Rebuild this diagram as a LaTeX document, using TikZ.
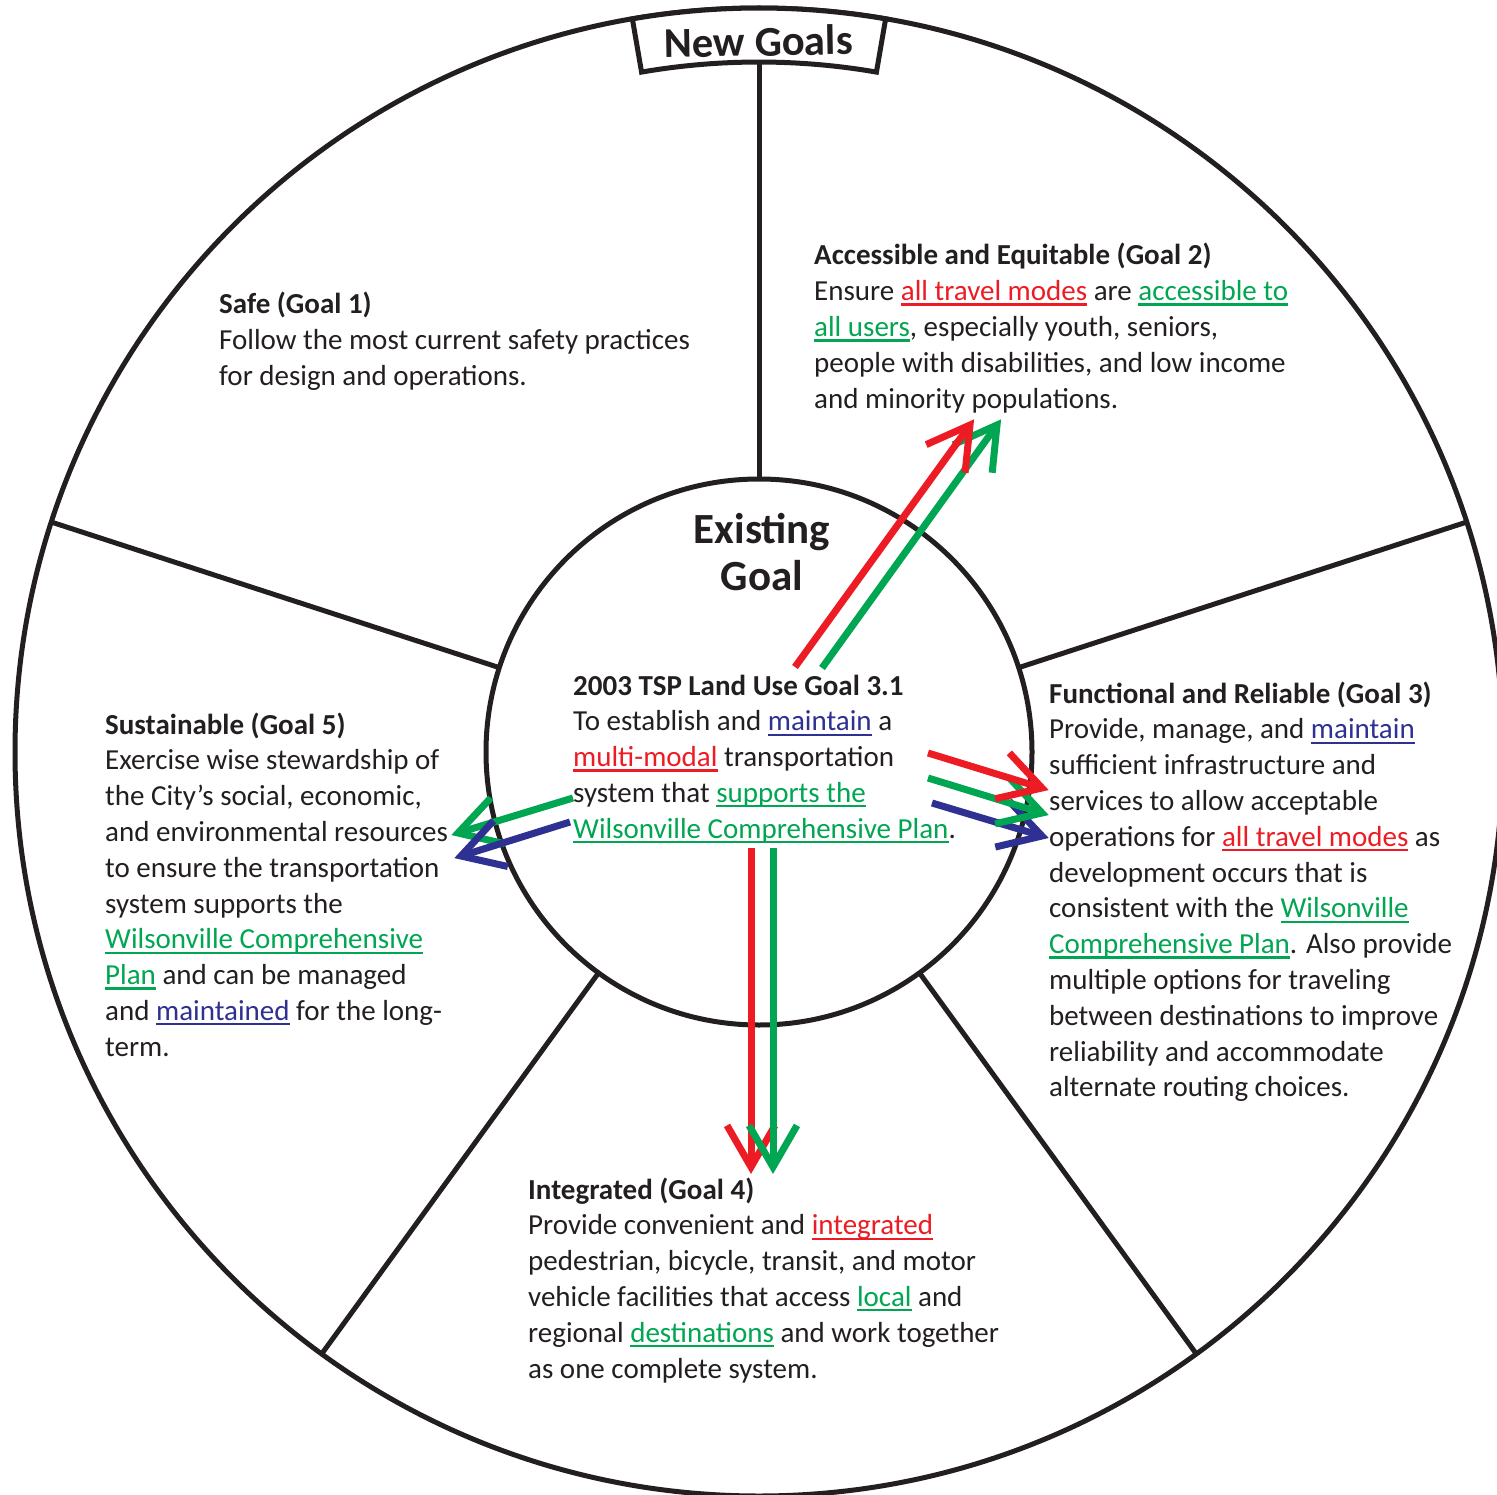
\documentclass[tikz,border=0pt]{standalone}
\usepackage{fontspec}
\setmainfont{Carlito}
\usetikzlibrary{calc}
\definecolor{txt}{HTML}{231F20}
\definecolor{cred}{HTML}{ED1C24}
\definecolor{cgreen}{HTML}{00A651}
\definecolor{cblue}{HTML}{2E3192}
\newlength\ulwd
\newcommand\ulc[2]{{\color{#1}\settowidth\ulwd{#2}\rlap{\rule[-5pt]{\ulwd}{2.3pt}}#2}}
\newcommand\arrowV[3]{%
  \draw[#1, line width=7pt] (#2) -- (#3);
  \draw[#1, line width=7pt, line join=miter] ($(#3)!48pt!30:(#2)$) -- (#3) -- ($(#3)!48pt!-30:(#2)$);}
\newcommand\blkL[1]{\begin{tabular}[t]{@{}l@{}}#1\end{tabular}}
\newcommand\blkC[1]{\begin{tabular}[t]{@{}c@{}}#1\end{tabular}}
\begin{document}
\begin{tikzpicture}[x=1pt,y=-1pt,
  ln/.style={draw=txt, line width=5pt},
  blk/.style={anchor=base west, inner sep=0pt, text=txt,
    font=\fontsize{29}{35.8}\selectfont},
  ttl/.style={inner sep=0pt, text=txt, font=\fontsize{43}{47}\selectfont\bfseries}]
\useasboundingbox[fill=white] (0,0) rectangle (1497,1495);
\coordinate (C) at (759,752);
% circles
\draw[ln] (C) circle[radius=744pt];
\draw[ln] (C) circle[radius=273pt];
% spokes
\draw[ln] ($(C)+(90:273pt)$) -- ($(C)+(90:690pt)$);
\foreach \a in {18,162,234,306}
  \draw[ln] ($(C)+(\a:273pt)$) -- ($(C)+(\a:744pt)$);
% New Goals banner
\draw[ln, fill=white, line join=miter] ($(C)+(80.2:744pt)$) arc[start angle=80.2, end angle=99.8, radius=744pt]
  -- ($(C)+(99.8:690pt)$) arc[start angle=99.8, end angle=80.2, radius=690pt] -- cycle;
\node[ttl, anchor=base, font=\fontsize{42.5}{44}\selectfont\bfseries, rotate=1] (ng) at (759,56) {New Goals};
\node[ttl, anchor=base] (eg) at (762,543) {\blkC{Existing\\Goal}};
% text blocks
\node[blk] (g1) at (219,314) {\blkL{\textbf{Safe (Goal 1)}\\
Follow the most current safety practices\\
for design and operations.}};
\node[blk] (g2) at (814,265) {\blkL{\textbf{Accessible and Equitable (Goal 2)}\\
Ensure \ulc{cred}{all travel modes} are \ulc{cgreen}{accessible to}\\
\ulc{cgreen}{all users}, especially youth, seniors,\\
people with disabilities, and low income\\
and minority populations.}};
\node[blk] (g3) at (1049,703) {\blkL{\textbf{Functional and Reliable (Goal 3)}\\
Provide, manage, and \ulc{cblue}{maintain}\\
sufficient infrastructure and\\
services to allow acceptable\\
operations for \ulc{cred}{all travel modes} as\\
development occurs that is\\
consistent with the \ulc{cgreen}{Wilsonville}\\
\ulc{cgreen}{Comprehensive Plan}. Also provide\\
multiple options for traveling\\
between destinations to improve\\
reliability and accommodate\\
alternate routing choices.}};
\node[blk] (g5) at (105,734) {\blkL{\textbf{Sustainable (Goal 5)}\\
Exercise wise stewardship of\\
the City's social, economic,\\
and environmental resources\\
to ensure the transportation\\
system supports the\\
\ulc{cgreen}{Wilsonville Comprehensive}\\
\ulc{cgreen}{Plan} and can be managed\\
and \ulc{cblue}{maintained} for the long-\\
term.}};
\node[blk] (g4) at (528,1199) {\blkL{\textbf{Integrated (Goal 4)}\\
Provide convenient and \ulc{cred}{integrated}\\
pedestrian, bicycle, transit, and motor\\
vehicle facilities that access \ulc{cgreen}{local} and\\
regional \ulc{cgreen}{destinations} and work together\\
as one complete system.}};
\node[blk] (ex) at (573,695) {\blkL{\textbf{2003 TSP Land Use Goal 3.1}\\
To establish and \ulc{cblue}{maintain} a\\
\ulc{cred}{multi-modal} transportation\\
system that \ulc{cgreen}{supports the}\\
\ulc{cgreen}{Wilsonville Comprehensive Plan}.}};
% arrow end points
\coordinate (ur1) at (795,667);  \coordinate (ur2) at (970,425);
\coordinate (ug1) at (822,668);  \coordinate (ug2) at (997,425);
\coordinate (rr1) at (928,753);  \coordinate (rr2) at (1042,788);
\coordinate (rg1) at (928,778);  \coordinate (rg2) at (1042,813);
\coordinate (rb1) at (932,803);  \coordinate (rb2) at (1042,836);
\coordinate (lg1) at (573,798);  \coordinate (lg2) at (458,833);
\coordinate (lb1) at (570,822);  \coordinate (lb2) at (461,856);
\coordinate (dr1) at (751,848);  \coordinate (dr2) at (751,1167);
\coordinate (dg1) at (773,848);  \coordinate (dg2) at (773,1167);
% arrows
\arrowV{cgreen}{ug1}{ug2}
\arrowV{cred}{ur1}{ur2}
\arrowV{cblue}{rb1}{rb2}
\arrowV{cgreen}{rg1}{rg2}
\arrowV{cred}{rr1}{rr2}
\arrowV{cgreen}{lg1}{lg2}
\arrowV{cblue}{lb1}{lb2}
\arrowV{cred}{dr1}{dr2}
\arrowV{cgreen}{dg1}{dg2}
\end{tikzpicture}
\end{document}
